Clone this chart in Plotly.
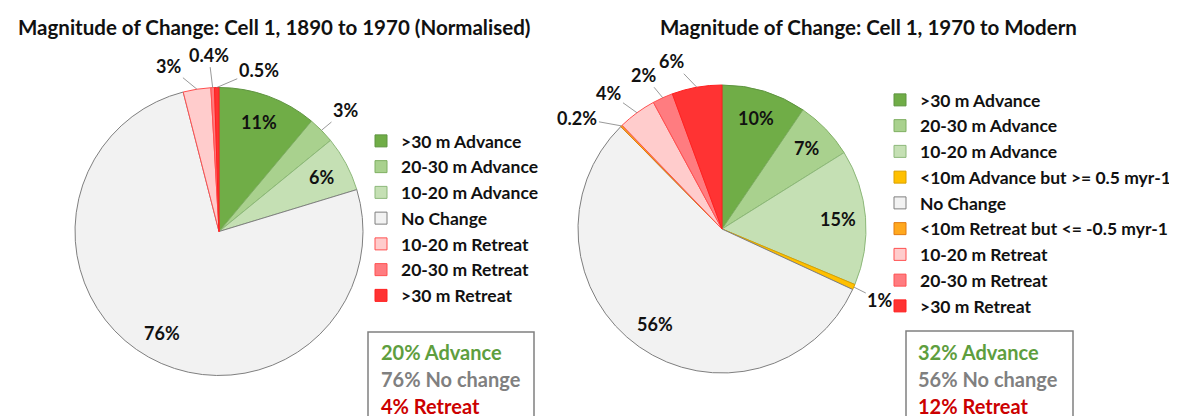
import math
import plotly.graph_objects as go

# ---------------- data ----------------
left_title = "Magnitude of Change: Cell 1, 1890 to 1970 (Normalised)"
right_title = "Magnitude of Change: Cell 1, 1970 to Modern"

left_categories = [">30 m Advance", "20-30 m Advance", "10-20 m Advance", "No Change",
                   "10-20 m Retreat", "20-30 m Retreat", ">30 m Retreat"]
left_values = [11.1, 3.0, 6.2, 75.7, 3.1, 0.4, 0.5]
left_labels = ["11%", "3%", "6%", "76%", "3%", "0.4%", "0.5%"]
left_group = ["adv", "adv", "adv", "none", "ret", "ret", "ret"]

right_categories = [">30 m Advance", "20-30 m Advance", "10-20 m Advance",
                    "<10m Advance but >= 0.5 myr-1", "No Change",
                    "<10m Retreat but <= -0.5 myr-1", "10-20 m Retreat",
                    "20-30 m Retreat", ">30 m Retreat"]
right_values = [9.5, 6.6, 15.2, 0.6, 55.7, 0.2, 4.3, 2.3, 5.6]
right_labels = ["10%", "7%", "15%", "1%", "56%", "0.2%", "4%", "2%", "6%"]
right_group = ["adv", "adv", "adv", "adv", "none", "ret", "ret", "ret", "ret"]

# ---------------- styles ----------------
FONT = "Lato"
W, H = 1177, 416
fill = {
    ">30 m Advance": "#70AD47", "20-30 m Advance": "#A9D18E", "10-20 m Advance": "#C5E0B4",
    "<10m Advance but >= 0.5 myr-1": "#FFC000", "No Change": "#F2F2F2",
    "<10m Retreat but <= -0.5 myr-1": "#FFA81E", "10-20 m Retreat": "#FFCCCC",
    "20-30 m Retreat": "#FF7C80", ">30 m Retreat": "#FF3333",
}
edge = {
    ">30 m Advance": "#5E9440", "20-30 m Advance": "#7FAF62", "10-20 m Advance": "#8DB87A",
    "<10m Advance but >= 0.5 myr-1": "#D9A000", "No Change": "#7F7F7F",
    "<10m Retreat but <= -0.5 myr-1": "#E07A10", "10-20 m Retreat": "#FF5050",
    "20-30 m Retreat": "#FF5050", ">30 m Retreat": "#FF2020",
}
# pixel offsets (text centre relative to slice edge) for labels of thin slices
left_label_offsets = {1: (24, -20), 4: (-28, -23), 5: (-4, -33), 6: (42, -18)}
right_label_offsets = {3: (26, 13), 5: (-44, -8), 6: (-28, -20), 7: (-19, -23), 8: (-25, -26)}
INSIDE_R = 0.81  # inside labels sit at this fraction of the radius


def px(x):
    return x / W


def py(y):
    return 1 - y / H


def summary(values, groups):
    total = sum(values)
    s = {"adv": 0.0, "none": 0.0, "ret": 0.0}
    for v, g in zip(values, groups):
        s[g] += v
    return {k: round(100 * v / total) for k, v in s.items()}


fig = go.Figure()
label_font = dict(family=FONT, size=18, color="#111111", weight="bold")

pies = [
    (left_categories, left_values, left_labels, left_label_offsets, "legend", (211, 223.5), 144, ""),
    (right_categories, right_values, right_labels, right_label_offsets, "legend2", (714, 221), 144, "\u200b"),
]
for cats, vals, labs, offs, leg, (cx, cy), r, suffix in pies:
    fig.add_trace(go.Pie(
        labels=[c + suffix for c in cats], values=vals, textinfo="none",
        sort=False, direction="clockwise", rotation=0,
        marker=dict(colors=[fill[c] for c in cats],
                    line=dict(color=[edge[c] for c in cats], width=1)),
        domain=dict(x=[px(cx - r), px(cx + r)], y=[py(cy + r), py(cy - r)]),
        legend=leg, hovertext=cats, hoverinfo="text+percent", showlegend=True,
    ))
    # data labels, anchored on each slice's mid-angle
    total = sum(vals)
    cum = 0.0
    for i, v in enumerate(vals):
        mid = (cum + v / 2) / total * 2 * math.pi
        cum += v
        if i in offs:
            ex = cx + r * math.sin(mid)
            ey = cy - r * math.cos(mid)
            ax, ay = offs[i]
            fig.add_annotation(x=px(ex), y=py(ey), xref="paper", yref="paper",
                               text=labs[i], showarrow=True, arrowhead=0, arrowwidth=0.8,
                               arrowcolor="#7F7F7F", ax=ax, ay=ay, standoff=0,
                               font=label_font)
        else:
            lx = cx + INSIDE_R * r * math.sin(mid)
            ly = cy - INSIDE_R * r * math.cos(mid)
            fig.add_annotation(x=px(lx), y=py(ly), xref="paper", yref="paper",
                               text=labs[i], showarrow=False, xanchor="center",
                               yanchor="middle", font=label_font)

legend_font = dict(family=FONT, size=17.5, color="#111111", weight="bold")
fig.update_layout(
    width=W, height=H, margin=dict(l=0, r=0, t=0, b=0),
    paper_bgcolor="white", plot_bgcolor="white",
    legend=dict(x=px(353), y=py(115), xanchor="left", yanchor="top",
                font=legend_font, bgcolor="rgba(0,0,0,0)", traceorder="normal"),
    legend2=dict(x=px(872), y=py(74), xanchor="left", yanchor="top",
                 font=legend_font, bgcolor="rgba(0,0,0,0)", traceorder="normal"),
)

# titles
title_font = dict(family=FONT, size=20.5, color="#111111", weight="bold")
fig.add_annotation(text=left_title, x=px(266), y=py(19), xref="paper", yref="paper",
                   xanchor="center", yanchor="middle", showarrow=False, font=title_font)
fig.add_annotation(text=right_title, x=px(860), y=py(19), xref="paper", yref="paper",
                   xanchor="center", yanchor="middle", showarrow=False, font=title_font)

# summary boxes
box_colors = {"adv": "#5E9E3E", "none": "#808080", "ret": "#CC0000"}
box_words = {"adv": "Advance", "none": "No change", "ret": "Retreat"}
for (vals, grp, (bx0, bx1, by0), tx) in [
    (left_values, left_group, (360, 526, 324), 371),
    (right_values, right_group, (898, 1065, 323), 908),
]:
    fig.add_shape(type="rect", xref="paper", yref="paper",
                  x0=px(bx0), x1=px(bx1), y0=py(by0), y1=py(H + 20),
                  line=dict(color="#808080", width=1.5), fillcolor="white")
    s = summary(vals, grp)
    for i, k in enumerate(["adv", "none", "ret"]):
        fig.add_annotation(text=f"{s[k]}% {box_words[k]}", x=px(tx), y=py(344 + 27 * i),
                           xref="paper", yref="paper", xanchor="left", yanchor="middle",
                           showarrow=False,
                           font=dict(family=FONT, size=20, color=box_colors[k], weight="bold"))

fig.write_html("out.html")
